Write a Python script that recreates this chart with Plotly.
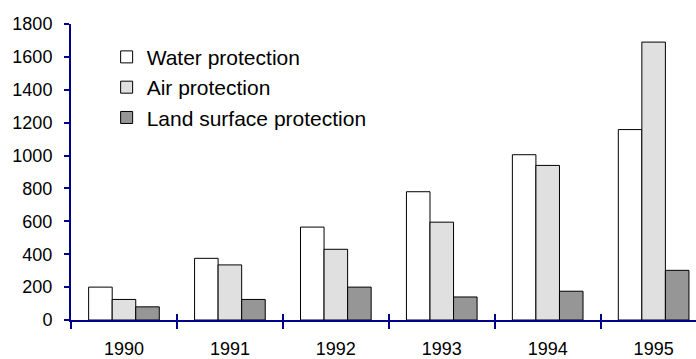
import plotly.graph_objects as go

years = ["1990", "1991", "1992", "1993", "1994", "1995"]
water = [200, 375, 565, 780, 1005, 1158]
air = [125, 335, 430, 595, 940, 1690]
land = [80, 125, 200, 140, 175, 302]

series_names = ["Water protection", "Air protection", "Land surface protection"]
series_colors = ["#ffffff", "#e0e0e0", "#969696"]
y_ticks = [0, 200, 400, 600, 800, 1000, 1200, 1400, 1600, 1800]

AXIS = "#00008b"
FONT = "Liberation Sans, Arial, sans-serif"

fig = go.Figure()
for name, vals, col in zip(series_names, [water, air, land], series_colors):
    fig.add_trace(go.Bar(
        x=years, y=vals, name=name,
        marker=dict(color=col, line=dict(color="#000000", width=1)),
    ))

# empty trace to anchor the overlay axis used for upward tick marks
fig.add_trace(go.Scatter(x=[], y=[], xaxis="x2", showlegend=False, hoverinfo="skip"))

fig.update_layout(
    width=696, height=359,
    margin=dict(l=71, r=0, t=24, b=39),
    paper_bgcolor="white", plot_bgcolor="white",
    barmode="group", bargap=0.333, bargroupgap=0,
    font=dict(family=FONT, size=18, color="#000000"),
    showlegend=True,
    legend=dict(
        x=0.057, y=0.957, xanchor="left", yanchor="top",
        bgcolor="rgba(0,0,0,0)", borderwidth=0,
        font=dict(family=FONT, size=21, color="#000000"),
        itemwidth=30, tracegroupgap=0,
    ),
    xaxis=dict(
        type="category", range=[-0.5, 5.4], tickson="boundaries",
        showline=True, linecolor=AXIS, linewidth=2,
        ticks="outside", ticklen=7, tickwidth=2, tickcolor=AXIS,
        showgrid=False, zeroline=False, ticklabelstandoff=11,
        tickfont=dict(family=FONT, size=18, color="#000000"),
    ),
    xaxis2=dict(
        overlaying="x", range=[-0.5, 5.4], type="linear",
        tickvals=[-0.5, 0.5, 1.5, 2.5, 3.5, 4.5],
        ticks="inside", ticklen=6, tickwidth=2, tickcolor=AXIS,
        showticklabels=False, showline=False, showgrid=False, zeroline=False,
        side="bottom", anchor="y",
    ),
    yaxis=dict(
        range=[0, 1800], tickvals=y_ticks,
        showline=True, linecolor=AXIS, linewidth=2,
        ticks="outside", ticklen=5, tickwidth=2, tickcolor=AXIS,
        showgrid=False, zeroline=False, ticklabelstandoff=8,
        tickfont=dict(family=FONT, size=18, color="#000000"),
    ),
)

fig.write_html("out.html")
